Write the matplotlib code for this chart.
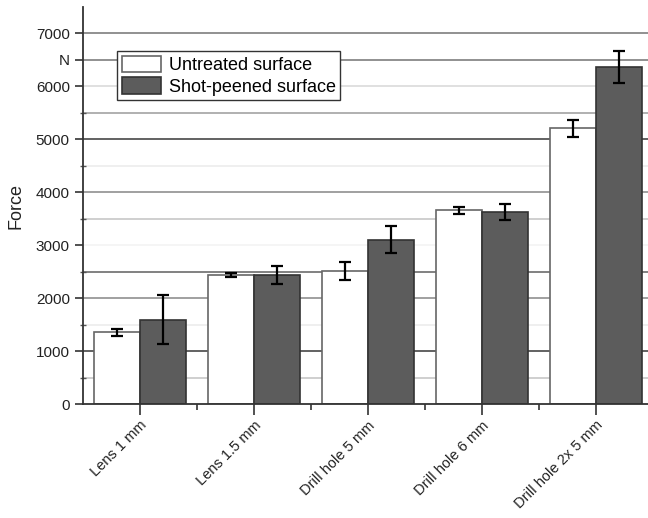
import numpy as np
import matplotlib.pyplot as plt

# Breaking force per specimen geometry, untreated vs shot-peened
categories = ["Lens 1 mm", "Lens 1.5 mm", "Drill hole 5 mm", "Drill hole 6 mm", "Drill hole 2x 5 mm"]
untreated = [1360, 2440, 2520, 3660, 5210]
untreated_err = [70, 30, 175, 70, 165]
peened = [1600, 2450, 3110, 3630, 6370]
peened_err = [460, 170, 250, 150, 305]

# Horizontal rules every 500 N, each with its own grey
grid_levels = [500, 1000, 1500, 2000, 2500, 3000, 3500, 4000, 4500, 5000, 5500, 6000, 6500, 7000]
grid_colors = ["#cccccc", "#555555", "#eeeeee", "#999999", "#777777", "#f4f4f4", "#cccccc",
               "#999999", "#eeeeee", "#555555", "#aaaaaa", "#dddddd", "#888888", "#888888"]

plt.rcParams['font.family'] = ['Liberation Sans', 'DejaVu Sans']

fig = plt.figure(figsize=(6.48, 5.18), dpi=100)
ax = fig.add_axes([83 / 648, 113.7 / 518, 570 / 648, 397.3 / 518])

for lvl, col in zip(grid_levels, grid_colors):
    ax.axhline(lvl, color=col, lw=1.3, zorder=0)

x = np.arange(len(categories))
w = 0.4
ax.bar(x - w / 2, untreated, w, color="white", edgecolor="#666666", lw=1.2,
       label="Untreated surface", zorder=2)
ax.bar(x + w / 2, peened, w, color="#5c5c5c", edgecolor="#333333", lw=1.2,
       label="Shot-peened surface", zorder=2)
ax.errorbar(x - w / 2, untreated, yerr=untreated_err, fmt="none", ecolor="black",
            elinewidth=1.6, capsize=4, capthick=1.6, zorder=3)
ax.errorbar(x + w / 2, peened, yerr=peened_err, fmt="none", ecolor="black",
            elinewidth=1.6, capsize=4, capthick=1.6, zorder=3)

ax.set_xlim(-0.5, len(categories) - 0.5)
ax.set_ylim(0, 7500)

ax.set_xticks(x)
ax.set_xticklabels(categories, rotation=45, ha="right", rotation_mode="anchor", fontsize=10.5)
ax.set_xticks(x[:-1] + 0.5, minor=True)

yt = [0, 1000, 2000, 3000, 4000, 5000, 6000, 6500, 7000]
ax.set_yticks(yt)
ax.set_yticklabels([str(v) if v != 6500 else "N" for v in yt], fontsize=11)
ax.set_yticks([500, 1500, 2500, 3500, 4500, 5500], minor=True)

ax.tick_params(axis="y", which="major", direction="out", length=6, width=1.2, color="#333333")
ax.tick_params(axis="y", which="minor", direction="inout", length=4, width=1.0, color="#555555")
ax.tick_params(axis="x", which="major", direction="out", length=8, width=1.2, color="#333333")
ax.tick_params(axis="x", which="minor", direction="out", length=4, width=1.2, color="#333333")
ax.tick_params(axis="x", which="major", pad=2)
ax.tick_params(axis="both", colors="#333333", labelcolor="#222222")

for side in ("top", "right"):
    ax.spines[side].set_visible(False)
for side in ("left", "bottom"):
    ax.spines[side].set_color("#333333")
    ax.spines[side].set_linewidth(1.3)

ax.set_ylabel("Force", fontsize=13, color="#222222", labelpad=8)

leg = ax.legend(loc="upper left", bbox_to_anchor=(0.06, 0.889), fontsize=13, frameon=True,
                fancybox=False, edgecolor="#333333", framealpha=1, handlelength=2.2,
                handleheight=1.0, borderpad=0.25, labelspacing=0.2, handletextpad=0.4,
                borderaxespad=0)
leg.get_frame().set_linewidth(1.0)

fig.savefig("out.png", dpi=100)
